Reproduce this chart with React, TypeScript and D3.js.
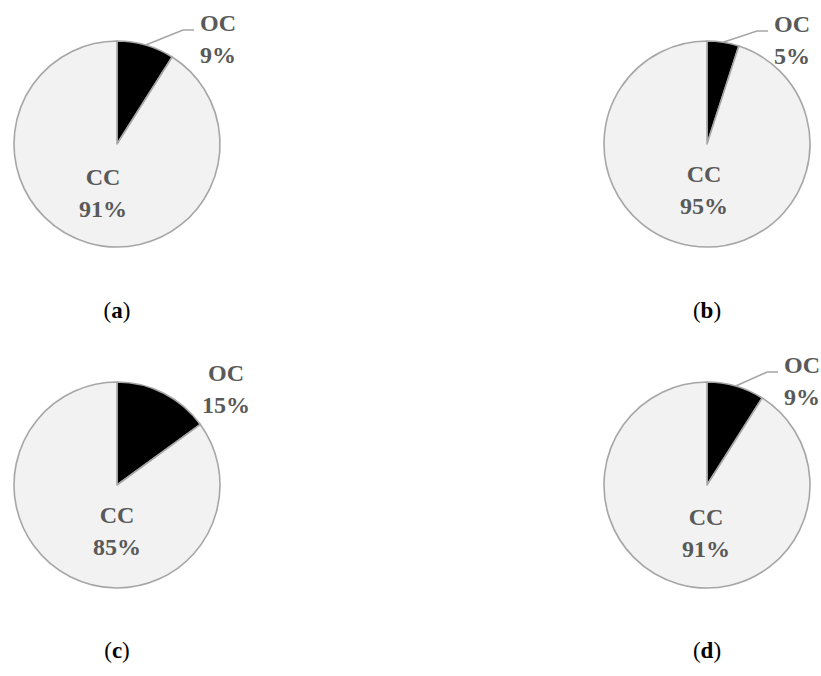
import React, { useRef, useEffect } from 'react';
import * as d3 from 'd3';

// shares per panel
const panelTags = ['a', 'b', 'c', 'd'];
const ocShare = [9, 5, 15, 9];
const ccShare = [91, 95, 85, 91];
const sliceNames = ['OC', 'CC'];
const showLeader = [true, true, false, true];

// label nudges relative to each pie centre (layout only)
const ocLabelPos = [[101, -113], [85, -112], [109, -104], [95, -112]];
const ccLabelPos = [[-14, 41], [-3, 38], [0, 38], [-1, 40]];

const W = 821;
const H = 676;
const R = 103;
const colX = [117, 707];
const rowY = [144, 485];
const captionY = [318, 658];

const textColor = '#595959';
const edgeColor = '#a6a6a6';
const font = "'Liberation Serif', 'Times New Roman', serif";

const App = () => {
  const svgRef = useRef<SVGSVGElement>(null);

  useEffect(() => {
    if (!svgRef.current) return;
    const svg = d3.select(svgRef.current);
    svg.selectAll('*').remove();

    const pie = d3.pie<number>().sort(null).value(d => d);
    const arc = d3.arc<d3.PieArcDatum<number>>().innerRadius(0).outerRadius(R);
    const color = d3.scaleOrdinal<string, string>().domain(sliceNames).range(['#000000', '#f2f2f2']);

    panelTags.forEach((tag, i) => {
      const cx = colX[i % 2];
      const cy = rowY[Math.floor(i / 2)];
      const values = [ocShare[i], ccShare[i]];
      const arcs = pie(values);

      const g = svg.append('g').attr('transform', `translate(${cx},${cy})`);

      g.selectAll('path.slice')
        .data(arcs)
        .enter()
        .append('path')
        .attr('class', 'slice')
        .attr('d', arc)
        .attr('fill', (d, j) => color(sliceNames[j]))
        .attr('stroke', edgeColor)
        .attr('stroke-width', 1.6)
        .attr('stroke-linejoin', 'round');

      // labels
      const spots = [ocLabelPos[i], ccLabelPos[i]];
      arcs.forEach((a, j) => {
        const [lx, ly] = spots[j];
        const t = g.append('text')
          .attr('text-anchor', 'middle')
          .attr('font-family', font)
          .attr('font-weight', 'bold')
          .attr('font-size', 24)
          .attr('fill', textColor);
        t.append('tspan').attr('x', lx).attr('y', ly).text(sliceNames[j]);
        t.append('tspan').attr('x', lx).attr('y', ly + 32).text(`${values[j]}%`);
      });

      if (showLeader[i]) {
        const mid = (arcs[0].startAngle + arcs[0].endAngle) / 2;
        const sx = Math.sin(mid) * R;
        const sy = -Math.cos(mid) * R;
        const [lx, ly] = ocLabelPos[i];
        const endX = lx - 24;
        const endY = ly - 1;
        const line = d3.line();
        g.append('path')
          .attr('d', line([[sx, sy], [endX - 11, endY], [endX, endY]]))
          .attr('fill', 'none')
          .attr('stroke', edgeColor)
          .attr('stroke-width', 1.6);
      }

      const cap = svg.append('text')
        .attr('x', cx)
        .attr('y', captionY[Math.floor(i / 2)])
        .attr('text-anchor', 'middle')
        .attr('font-family', font)
        .attr('font-size', 23)
        .attr('fill', '#000');
      cap.append('tspan').text('(');
      cap.append('tspan').attr('font-weight', 'bold').text(tag);
      cap.append('tspan').text(')');
    });
  }, []);

  return (
    <div style={{ position: 'absolute', left: 0, top: 0, width: W, height: H, background: '#fff' }}>
      <svg ref={svgRef} width={W} height={H}></svg>
    </div>
  );
};

export default App;
